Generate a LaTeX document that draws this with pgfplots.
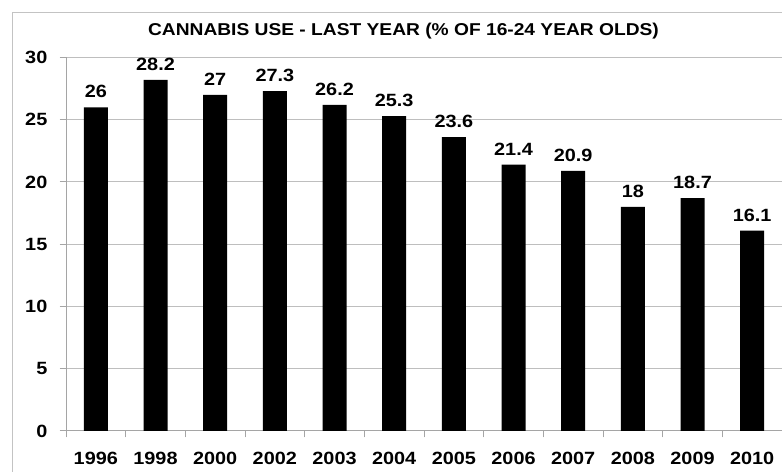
\documentclass[border=0pt]{standalone}
\usepackage{fontspec}
\setmainfont{Liberation Sans}[FakeStretch=1.12]
\usepackage{pgfplots}
\usepackage{pgfplotstable}
\pgfplotsset{compat=1.18}

\definecolor{gridgray}{RGB}{190,190,190}
\definecolor{axisgray}{RGB}{165,165,165}
\definecolor{framegray}{RGB}{195,195,195}

% share of 16-24 year olds reporting cannabis use in the last year (%)
\pgfplotstableread{
idx year value
0 1996 26
1 1998 28.2
2 2000 27
3 2002 27.3
4 2003 26.2
5 2004 25.3
6 2005 23.6
7 2006 21.4
8 2007 20.9
9 2008 18
10 2009 18.7
11 2010 16.1
}\usedata

\newcommand{\lblfont}{\bfseries\fontsize{17.8}{20}\selectfont}

\begin{document}
\begin{tikzpicture}[x=1bp,y=1bp]
\useasboundingbox (0,0) rectangle (782,472);
% chart frame
\draw[framegray, line width=1.2bp] (12.5,0) -- (12.5,459.5) -- (782,459.5);
% title
\node[anchor=base, inner sep=0, font=\bfseries\fontsize{17.2}{19}\selectfont]
  at (403.5,436) {CANNABIS USE - LAST YEAR (\% OF 16-24 YEAR OLDS)};
\begin{axis}[
  at={(66bp,41bp)}, anchor=south west,
  scale only axis, width=716bp, height=373.5bp,
  xmin=-0.5, xmax=11.5, ymin=0, ymax=30,
  axis lines*=left,
  axis line style={axisgray, line width=1bp},
  tick style={axisgray, line width=1bp},
  tick align=outside,
  major tick length=6.5bp,
  ymajorgrids,
  grid style={gridgray, line width=1bp},
  ytick={0,5,...,30},
  xtick={-0.5,0.5,...,11.5},
  xticklabels={1996,1998,2000,2002,2003,2004,2005,2006,2007,2008,2009,2010},
  x tick label as interval,
  /pgf/number format/assume math mode=true,
  ticklabel style={font=\lblfont},
  yticklabel style={inner sep=0, anchor=east, xshift=-12bp},
  xticklabel style={inner sep=0, anchor=base, yshift=-27bp},
  nodes near coords,
  every node near coord/.append style={font=\lblfont, black, anchor=south, inner sep=0, yshift=9bp},
  clip=false,
]
\addplot[ybar, fill=black, draw=none, bar width=24bp] table[x=idx, y=value] {\usedata};
\end{axis}
\end{tikzpicture}
\end{document}
